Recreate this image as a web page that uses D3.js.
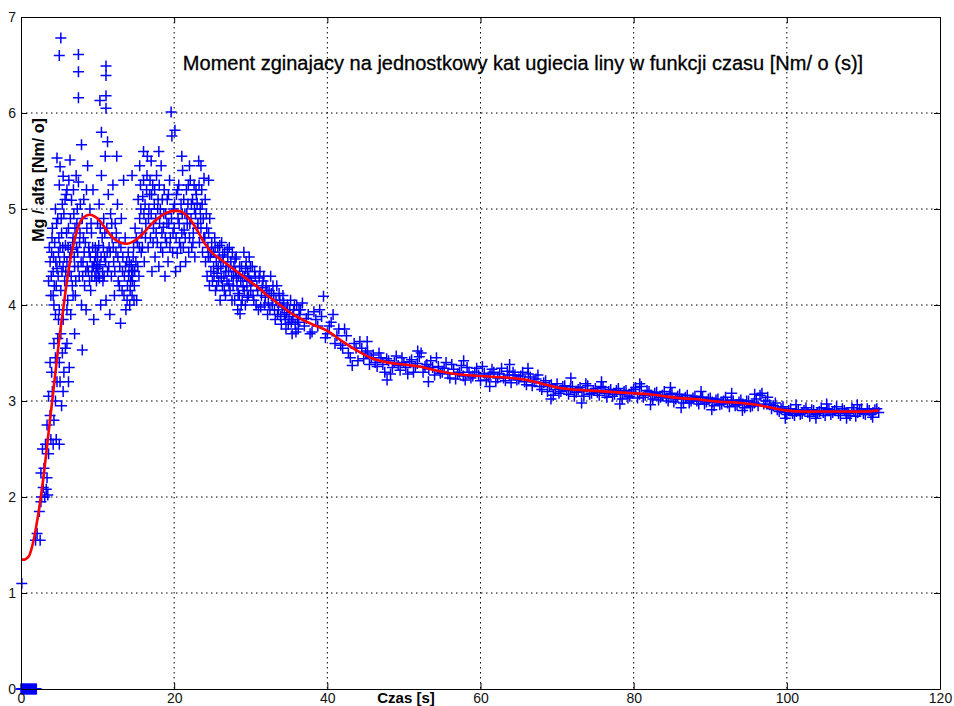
<!DOCTYPE html>
<html>
<head>
<meta charset="utf-8">
<script src="https://cdn.jsdelivr.net/npm/d3@7"></script>
<style>
  body { margin: 0; background: #fff; }
  text { font-family: "Liberation Sans", Arial, sans-serif; }
</style>
</head>
<body>
<svg width="954" height="706"></svg>
<script>
// axis ticks
const xTicks = [0, 20, 40, 60, 80, 100, 120];
const yTicks = [0, 1, 2, 3, 4, 5, 6, 7];

// measured points at zero (start of the test)
const zeroPoints = [[0, 0], [0.1, 0], [0.2, 0], [0.3, 0], [0.4, 0], [0.5, 0], [0.6, 0], [0.7, 0], [0.8, 0], [0.9, 0],
  [1, 0], [1.1, 0], [1.2, 0], [1.3, 0], [1.4, 0], [1.5, 0], [1.6, 0], [1.7, 0], [1.8, 0], [1.9, 0], [2, 0]];

// rising part
const risePoints = [
  [0.1, 1.1], [1.9, 1.55], [2.1, 1.62], [2.4, 1.85], [2.5, 1.55], [2.6, 1.95], [2.7, 2.0], [2.9, 2.1],
  [3.1, 2.0], [3.3, 2.08], [3.5, 2.02], [2.6, 2.25], [3.0, 2.3], [3.4, 2.2], [2.8, 2.5], [3.2, 2.55],
  [3.6, 2.45], [3.9, 2.6], [4.2, 2.55], [4.6, 2.6], [5.0, 2.55], [3.4, 2.75], [3.8, 2.85], [4.3, 2.8],
  [3.6, 3.05], [4.1, 3.1], [4.5, 3.0], [5.1, 3.2], [5.3, 2.95], [4.0, 3.3], [4.5, 3.45], [5.0, 3.4],
  [5.6, 3.3], [4.3, 3.6], [4.8, 3.65], [5.2, 3.7], [5.8, 3.55], [6.3, 3.35], [8.0, 3.53], [4.5, 3.9],
  [5.0, 3.95], [5.5, 3.85], [6.0, 3.95], [4.2, 4.1], [4.7, 3.2], [5.5, 3.1], [6.0, 3.6], [5.4, 3.5],
  [6.5, 3.9], [6.8, 4.1], [7.0, 3.7], [6.2, 3.2], [3.8, 3.4], [4.9, 3.85]
];

// scattered plateau 3.5 - 25 s
const plateauPoints = [
  [3.6, 4.25], [3.8, 4.45], [3.9, 4.1], [4.0, 4.55], [4.1, 4.8], [4.2, 4.35], [4.3, 4.0], [4.4, 4.65],
  [4.5, 5.0], [4.6, 4.2], [4.7, 5.53], [4.7, 4.38], [4.8, 4.9], [4.9, 4.55], [5.0, 5.25], [5.1, 5.44],
  [5.1, 4.6], [5.2, 4.15], [5.3, 4.75], [5.4, 5.05], [5.5, 5.34], [5.5, 4.4], [5.6, 4.95], [5.7, 4.25],
  [5.8, 4.62], [5.9, 5.15], [6.0, 5.2], [6.0, 4.45], [6.1, 4.05], [6.2, 4.8], [6.3, 4.35], [6.4, 5.51],
  [6.5, 4.58], [6.6, 5.09], [6.7, 4.2], [6.8, 4.7], [6.9, 4.95], [7.0, 4.4], [7.1, 4.1], [7.2, 5.35],
  [7.3, 4.85], [7.4, 4.55], [7.5, 5.28], [7.6, 4.3], [7.7, 4.75], [7.9, 5.67], [7.9, 4.0], [8.0, 4.9],
  [8.1, 4.45], [8.2, 5.1], [8.3, 4.2], [8.4, 4.65], [8.5, 3.95], [8.6, 4.8], [8.7, 5.45], [8.8, 4.35],
  [8.9, 4.55], [9.0, 5.0], [9.1, 4.15], [9.2, 4.75], [9.3, 4.4], [9.4, 5.2], [9.5, 3.85], [9.6, 4.45],
  [9.7, 4.6], [9.8, 4.35], [9.9, 4.4], [10.0, 4.5], [10.0, 4.85], [10.1, 4.3], [10.2, 5.05], [10.3, 4.42],
  [10.4, 4.0], [10.5, 5.35], [10.6, 4.7], [10.7, 4.25], [10.8, 4.9], [10.9, 4.5], [11.0, 5.55], [11.1, 4.05],
  [11.2, 4.8], [11.3, 4.35], [11.4, 5.15], [11.5, 4.6], [11.6, 3.9], [11.7, 4.95], [11.8, 4.3], [11.9, 4.7],
  [12.0, 5.25], [12.1, 4.45], [12.2, 4.1], [12.3, 4.85], [12.4, 4.55], [12.6, 5.05], [12.7, 4.25], [12.8, 4.65],
  [12.9, 4.4], [13.0, 3.81], [13.1, 4.9], [13.2, 4.15], [13.3, 4.5], [13.4, 5.3], [13.5, 4.3], [13.6, 4.7],
  [13.7, 3.95], [13.8, 4.45], [13.9, 4.2], [14.0, 4.55], [14.1, 4.35], [14.2, 4.0], [14.3, 4.25], [14.4, 4.42],
  [14.5, 4.1], [14.6, 4.36], [14.7, 4.6], [14.8, 4.2], [14.9, 4.8], [15.0, 4.45], [15.1, 4.05], [15.2, 4.65],
  [15.3, 5.1], [15.4, 4.3], [15.5, 4.9], [15.6, 5.25], [15.7, 4.55], [15.8, 4.75], [15.9, 5.13], [16.0, 5.3],
  [16.1, 4.45], [16.2, 5.05], [16.3, 4.85], [16.4, 5.2], [16.5, 5.55], [16.6, 4.6], [16.7, 5.0], [16.8, 5.15],
  [16.9, 4.7], [17.0, 4.95], [17.1, 4.35], [17.2, 5.25], [17.3, 4.8], [17.4, 5.05], [17.5, 4.5], [17.6, 4.9],
  [17.7, 5.35], [17.8, 4.65], [17.9, 5.1], [18.0, 4.4], [18.1, 4.85], [18.2, 5.0], [18.3, 5.45], [18.4, 4.75],
  [18.5, 4.55], [18.6, 4.81], [18.7, 5.2], [18.8, 4.3], [18.9, 4.95], [19.0, 4.65], [19.1, 5.1], [19.2, 4.45],
  [19.3, 4.85], [19.4, 5.3], [19.5, 4.7], [19.8, 4.55], [19.9, 5.0], [20.0, 4.8], [20.2, 4.35], [20.3, 5.15],
  [20.4, 4.54], [20.5, 4.9], [20.6, 5.25], [20.7, 4.65], [20.8, 4.4], [20.9, 5.05], [21.0, 4.75], [21.1, 5.4],
  [21.2, 4.6], [21.3, 4.78], [21.4, 4.95], [21.5, 4.45], [21.6, 5.2], [21.7, 4.85], [21.8, 5.05], [21.9, 4.55],
  [22.0, 4.7], [22.1, 5.3], [22.2, 4.9], [22.3, 4.6], [22.4, 5.1], [22.5, 4.75], [22.6, 5.25], [22.7, 4.5],
  [22.8, 4.95], [22.9, 5.15], [23.0, 5.06], [23.1, 4.85], [23.2, 5.5], [23.3, 4.65], [23.4, 5.0], [23.5, 4.8],
  [23.6, 5.2], [23.7, 4.55], [23.8, 4.9], [23.9, 5.32], [24.0, 4.7], [24.1, 4.45], [24.2, 4.95], [24.3, 4.3],
  [24.4, 4.6], [24.5, 4.75], [24.6, 4.2], [24.7, 4.5], [24.8, 4.35], [24.9, 4.65], [25.0, 4.25],
  [14.5, 5.35], [15.5, 5.45], [16.0, 5.6], [17.0, 5.5], [18.0, 5.6], [21.0, 5.55], [22.0, 5.45], [23.5, 5.45],
  [24.5, 5.3], [12.5, 5.55], [10.5, 5.8], [11.3, 5.7]
];

// denser core of the plateau
const plateauCore = [
  [3.7, 4.6], [3.95, 4.3], [4.05, 4.7], [4.25, 4.5], [4.35, 4.2], [4.55, 4.45], [4.65, 4.85], [4.85, 4.3],
  [4.95, 4.7], [5.05, 4.45], [5.25, 4.9], [5.35, 4.35], [5.45, 4.6], [5.65, 4.5], [5.75, 5.1], [5.85, 4.35],
  [5.95, 4.75], [6.15, 4.6], [6.25, 5.3], [6.35, 4.5], [6.45, 4.9], [6.55, 4.3], [6.75, 4.65], [6.85, 5.2],
  [6.95, 4.5], [7.05, 4.8], [7.15, 4.25], [7.25, 4.6], [7.35, 5.0], [7.45, 4.4], [7.65, 4.65], [7.75, 5.05],
  [7.85, 4.45], [8.05, 4.3], [8.15, 4.7], [8.25, 4.55], [8.45, 4.35], [8.55, 5.2], [8.65, 4.4], [8.85, 4.6],
  [8.95, 4.25], [9.05, 4.5], [9.15, 4.85], [9.25, 4.3], [9.35, 4.6], [9.45, 4.4], [9.65, 4.3], [9.75, 4.5],
  [9.85, 4.25], [9.95, 4.55], [10.05, 4.38], [10.15, 4.62], [10.25, 4.28], [10.35, 4.8], [10.45, 4.5], [10.65, 4.35],
  [10.75, 4.6], [10.85, 4.3], [10.95, 4.75], [11.05, 4.45], [11.25, 4.55], [11.45, 4.4], [11.65, 4.55], [11.85, 4.85],
  [12.05, 4.6], [12.25, 4.35], [12.45, 4.75], [12.65, 4.5], [12.85, 4.2], [13.05, 4.6], [13.25, 4.35], [13.45, 4.1],
  [13.65, 4.4], [13.85, 4.05], [14.05, 4.3], [14.15, 4.45], [14.25, 4.15], [14.45, 4.3], [14.55, 4.25], [14.65, 4.5],
  [14.75, 4.05], [14.85, 4.35], [15.05, 4.7], [15.25, 4.4], [15.45, 4.6], [15.65, 5.0], [15.85, 4.6], [16.05, 4.95],
  [16.25, 4.7], [16.45, 5.35], [16.65, 4.9], [16.85, 5.3], [17.05, 5.15], [17.25, 4.65], [17.45, 5.2], [17.65, 4.75],
  [17.85, 5.0], [18.05, 5.25], [18.25, 4.6], [18.45, 5.1], [18.65, 4.95], [18.85, 4.7], [19.05, 4.85], [19.25, 5.15],
  [19.45, 4.6], [19.65, 4.9], [19.85, 4.75], [20.05, 5.05], [20.25, 4.7], [20.45, 5.2], [20.65, 4.85], [20.85, 4.6],
  [21.05, 4.95], [21.25, 5.1], [21.45, 4.7], [21.65, 4.95], [21.85, 5.25], [22.05, 4.85], [22.25, 5.05], [22.45, 4.65],
  [22.65, 5.0], [22.85, 5.2], [23.05, 4.8], [23.25, 5.25], [23.45, 4.9], [23.65, 5.05], [23.85, 4.7], [24.05, 5.1],
  [24.25, 4.8], [24.45, 4.5], [24.65, 4.9], [24.85, 4.55]
];

// isolated high values
const outlierPoints = [
  [5.2, 6.78], [5.0, 6.6], [7.5, 6.61], [7.5, 6.43], [11.1, 6.49], [11.1, 6.39], [11.1, 6.18], [7.5, 6.16],
  [10.3, 6.13], [11.1, 6.05], [19.6, 6.01], [20.1, 5.82], [19.7, 5.76]
];

// decay 25 - 36 s
const decayPoints = [
  [25.1, 4.55], [25.2, 4.3], [25.3, 4.7], [25.4, 4.15], [25.5, 4.45], [25.6, 4.33], [25.7, 4.6], [25.8, 4.25],
  [25.9, 4.5], [26.0, 4.05], [26.1, 4.4], [26.2, 4.65], [26.3, 4.2], [26.4, 4.45], [26.5, 4.3], [26.6, 4.55],
  [26.7, 4.1], [26.8, 4.4], [26.9, 4.25], [27.0, 4.5], [27.1, 4.35], [27.2, 4.6], [27.3, 4.15], [27.4, 4.45],
  [27.5, 4.3], [27.6, 4.55], [27.7, 4.2], [27.8, 4.4], [27.9, 4.05], [28.0, 4.35], [28.1, 4.5], [28.2, 4.2],
  [28.3, 3.95], [28.4, 4.3], [28.5, 4.1], [28.6, 3.91], [28.7, 4.25], [28.8, 4.4], [28.9, 4.05], [29.0, 4.19],
  [29.1, 4.55], [29.2, 4.3], [29.3, 4.0], [29.4, 4.45], [29.5, 4.2], [29.6, 4.35], [29.7, 4.1], [29.8, 4.5],
  [29.9, 4.25], [30.0, 4.15], [30.2, 4.4], [30.4, 4.05], [30.6, 4.3], [30.8, 4.2], [31.0, 3.95], [31.2, 4.35],
  [31.4, 4.1], [31.6, 4.25], [31.8, 4.0], [32.0, 4.2], [32.2, 3.9], [32.4, 4.15], [32.6, 4.3], [32.8, 4.0],
  [33.0, 4.1], [33.2, 3.85], [33.4, 4.2], [33.6, 3.95], [33.8, 4.05], [34.0, 3.8], [34.2, 4.1], [34.4, 3.9],
  [34.6, 3.75], [34.8, 4.0], [35.0, 3.85], [35.2, 4.05], [35.4, 3.7], [35.6, 3.95], [35.8, 3.8], [36.0, 4.0],
  [36.2, 3.75], [36.4, 3.9]
];

const decayCore = [
  [25.15, 4.4], [25.35, 4.6], [25.55, 4.2], [25.75, 4.38], [25.95, 4.62], [26.15, 4.28], [26.35, 4.52], [26.55, 4.15],
  [26.75, 4.35], [26.95, 4.58], [27.15, 4.22], [27.35, 4.4], [27.55, 4.05], [27.75, 4.3], [27.95, 4.48], [28.15, 4.28],
  [28.35, 4.12], [28.55, 4.4], [28.75, 4.0], [28.95, 4.3], [29.15, 4.15], [29.35, 4.38], [29.55, 4.08], [29.75, 4.28],
  [29.95, 4.4], [30.1, 4.25], [30.3, 4.1], [30.5, 4.35], [30.7, 4.0], [30.9, 4.15], [31.1, 4.28], [31.3, 3.98],
  [31.5, 4.18], [31.7, 4.3], [31.9, 4.08], [32.1, 4.15], [32.3, 4.02], [32.5, 3.95], [32.7, 4.12], [32.9, 4.2],
  [33.1, 3.95], [33.3, 4.05], [33.5, 3.9], [33.7, 4.12], [33.9, 3.88], [34.1, 3.98], [34.3, 4.02], [34.5, 3.85],
  [34.7, 3.92], [34.9, 3.8], [35.1, 3.95], [35.3, 3.82], [35.5, 3.88], [35.7, 4.0], [35.9, 3.72], [36.1, 3.85],
  [36.3, 3.95]
];

// long tail 36 - 112 s
const tailPoints = [
  [36.5, 3.95], [37.0, 3.78], [37.5, 3.9], [38.0, 3.72], [38.5, 3.85], [39.0, 3.95], [39.5, 4.09], [40.0, 3.7],
  [40.5, 3.82], [41.0, 3.6], [41.5, 3.75], [42.0, 3.55], [42.5, 3.68], [43.0, 3.45], [43.5, 3.6], [44.0, 3.42],
  [44.5, 3.55], [45.0, 3.5], [45.5, 3.38], [46.0, 3.48], [46.5, 3.36], [47.0, 3.45], [47.5, 3.3], [48.0, 3.42],
  [48.5, 3.35], [49.0, 3.47], [49.5, 3.32], [50.0, 3.4], [50.5, 3.28], [51.0, 3.43], [51.5, 3.36], [52.0, 3.46],
  [52.5, 3.3], [53.0, 3.38], [53.5, 3.42], [54.0, 3.27], [54.5, 3.36], [55.0, 3.3], [55.5, 3.4], [56.0, 3.24],
  [56.5, 3.33], [57.0, 3.28], [57.5, 3.37], [58.0, 3.22], [58.5, 3.3], [59.0, 3.26], [59.5, 3.34], [60.0, 3.21],
  [60.5, 3.29], [61.0, 3.25], [61.5, 3.33], [62.0, 3.2], [62.5, 3.28], [63.0, 3.24], [63.5, 3.31], [64.0, 3.19],
  [64.5, 3.27], [65.0, 3.23], [65.5, 3.3], [66.0, 3.17], [66.5, 3.25], [67.0, 3.2], [67.5, 3.27], [68.0, 3.12],
  [68.5, 3.21], [69.0, 3.15], [69.5, 3.06], [70.0, 3.18], [70.5, 3.1], [71.0, 3.16], [71.5, 3.07], [72.0, 3.15],
  [72.5, 3.09], [73.0, 3.14], [73.5, 3.05], [74.0, 3.16], [74.5, 3.08], [75.0, 3.13], [75.5, 3.06], [76.0, 3.14],
  [76.5, 3.04], [77.0, 3.12], [77.5, 3.07], [78.0, 3.13], [78.5, 3.02], [79.0, 3.11], [79.5, 3.05], [80.0, 3.12],
  [80.5, 3.03], [81.0, 3.15], [81.5, 3.06], [82.0, 3.1], [82.5, 3.02], [83.0, 3.09], [83.5, 3.04], [84.0, 3.1],
  [84.5, 3.0], [85.0, 3.08], [85.5, 3.02], [86.0, 3.07], [86.5, 2.98], [87.0, 3.06], [87.5, 3.0], [88.0, 3.05],
  [88.5, 2.97], [89.0, 3.04], [89.5, 2.99], [90.0, 3.03], [90.5, 2.95], [91.0, 3.02], [91.5, 2.97], [92.0, 3.04],
  [92.5, 2.94], [93.0, 3.0], [93.5, 2.96], [94.0, 3.01], [94.5, 2.93], [95.0, 3.0], [95.5, 2.95], [96.0, 3.02],
  [96.5, 3.06], [97.0, 2.97], [97.5, 3.04], [98.0, 2.92], [98.5, 2.98], [99.0, 2.89], [99.5, 2.94], [100.0, 2.86],
  [100.5, 2.92], [101.0, 2.85], [101.5, 2.91], [102.0, 2.87], [102.5, 2.93], [103.0, 2.84], [103.5, 2.9], [104.0, 2.87],
  [104.5, 2.93], [105.0, 2.85], [105.5, 2.91], [106.0, 2.88], [106.5, 2.94], [107.0, 2.85], [107.5, 2.9], [108.0, 2.87],
  [108.5, 2.93], [109.0, 2.84], [109.5, 2.9], [110.0, 2.87], [110.5, 2.92], [111.0, 2.86], [111.5, 2.91], [112.0, 2.88]
];

const tailCore = [
  [36.25, 3.82], [36.75, 4.02], [37.25, 3.86], [37.75, 3.7], [38.25, 3.93], [38.75, 3.78], [39.25, 3.88], [39.75, 3.66],
  [40.25, 3.78], [40.75, 3.9], [41.25, 3.68], [41.75, 3.58], [42.25, 3.75], [42.75, 3.5], [43.25, 3.37], [43.75, 3.55],
  [44.25, 3.62], [44.75, 3.44], [45.25, 3.52], [45.75, 3.45], [46.25, 3.4], [46.75, 3.5], [47.25, 3.38], [47.75, 3.44],
  [48.25, 3.28], [48.75, 3.4], [49.25, 3.37], [49.75, 3.45], [50.25, 3.35], [50.75, 3.41], [51.25, 3.3], [51.75, 3.39],
  [52.25, 3.5], [52.75, 3.36], [53.25, 3.33], [53.75, 3.35], [54.25, 3.45], [54.75, 3.29], [55.25, 3.34], [55.75, 3.28],
  [56.25, 3.38], [56.75, 3.23], [57.25, 3.3], [57.75, 3.26], [58.25, 3.35], [58.75, 3.24], [59.25, 3.3], [59.75, 3.27],
  [60.25, 3.36], [60.75, 3.22], [61.25, 3.28], [61.75, 3.3], [62.25, 3.24], [62.75, 3.34], [63.25, 3.21], [63.75, 3.27],
  [64.25, 3.3], [64.75, 3.22], [65.25, 3.26], [65.75, 3.2], [66.25, 3.28], [66.75, 3.16], [67.25, 3.23], [67.75, 3.15],
  [68.25, 3.19], [68.75, 3.1], [69.25, 3.17], [69.75, 3.12], [70.25, 3.08], [70.75, 3.15], [71.25, 3.11], [71.75, 3.13],
  [72.25, 3.05], [72.75, 3.12], [73.25, 3.1], [73.75, 3.18], [74.25, 3.07], [74.75, 3.11], [75.25, 3.09], [75.75, 3.15],
  [76.25, 3.08], [76.75, 3.1], [77.25, 3.05], [77.75, 3.11], [78.25, 3.07], [78.75, 3.1], [79.25, 3.03], [79.75, 3.09],
  [80.25, 3.14], [80.75, 3.07], [81.25, 3.04], [81.75, 3.11], [82.25, 3.06], [82.75, 3.08], [83.25, 3.01], [83.75, 3.06],
  [84.25, 3.03], [84.75, 3.07], [85.25, 2.99], [85.75, 3.05], [86.25, 3.02], [86.75, 3.04], [87.25, 2.98], [87.75, 3.03],
  [88.25, 3.0], [88.75, 3.04], [89.25, 2.97], [89.75, 3.02], [90.25, 2.99], [90.75, 3.01], [91.25, 2.96], [91.75, 3.0],
  [92.25, 2.98], [92.75, 3.01], [93.25, 2.95], [93.75, 2.99], [94.25, 2.97], [94.75, 3.0], [95.25, 2.94], [95.75, 2.98],
  [96.25, 2.95], [96.75, 3.08], [97.25, 3.0], [97.75, 2.96], [98.25, 2.95], [98.75, 2.91], [99.25, 2.92], [99.75, 2.88],
  [100.25, 2.9], [100.75, 2.87], [101.25, 2.89], [101.75, 2.86], [102.25, 2.9], [102.75, 2.88], [103.25, 2.91], [103.75, 2.86],
  [104.25, 2.89], [104.75, 2.88], [105.25, 2.92], [105.75, 2.86], [106.25, 2.9], [106.75, 2.87], [107.25, 2.92], [107.75, 2.88],
  [108.25, 2.85], [108.75, 2.9], [109.25, 2.88], [109.75, 2.92], [110.25, 2.86], [110.75, 2.9], [111.25, 2.88], [111.75, 2.92]
];

// scattered spikes above / below the tail band
const tailSpikes = [
  [45.2, 3.62], [47.8, 3.22], [51.8, 3.52], [53.2, 3.2], [57.8, 3.42], [61.2, 3.15], [63.8, 3.38], [66.2, 3.34],
  [69.2, 3.02], [71.8, 3.24], [73.2, 2.98], [75.8, 3.2], [78.2, 2.97], [80.8, 3.18], [82.2, 2.96], [84.8, 3.14],
  [86.2, 2.93], [88.8, 3.1], [90.2, 2.91], [92.8, 3.08], [94.2, 2.9], [95.8, 3.07], [99.8, 2.82], [101.2, 2.96],
  [103.8, 2.82], [105.2, 2.97], [107.8, 2.82], [109.2, 2.96], [111.2, 2.83]
];

// fitted curve (red)
const fitTime = [0, 0.5, 1, 1.5, 2, 2.5, 3, 3.5, 4, 4.5, 5, 5.5, 6, 6.5, 7, 7.5, 8, 9, 10, 11, 12, 13, 14, 15, 16, 17,
  18, 19, 20, 21, 22, 23, 24, 25, 26, 27, 28, 29, 30, 31, 32, 33, 34, 35, 36, 38, 40, 42, 44, 46, 48, 50, 52, 54, 56,
  58, 60, 62, 64, 66, 68, 70, 72, 74, 76, 78, 80, 82, 84, 86, 88, 90, 92, 94, 96, 98, 100, 102, 104, 106, 108, 110, 112];
const fitValue = [1.35, 1.35, 1.38, 1.5, 1.7, 1.95, 2.25, 2.6, 2.95, 3.3, 3.65, 3.95, 4.25, 4.5, 4.68, 4.82, 4.9, 4.94,
  4.9, 4.8, 4.7, 4.65, 4.64, 4.68, 4.75, 4.84, 4.91, 4.96, 4.98, 4.97, 4.9, 4.78, 4.64, 4.54, 4.48, 4.42, 4.36, 4.3,
  4.24, 4.18, 4.11, 4.05, 3.99, 3.93, 3.88, 3.8, 3.73, 3.62, 3.52, 3.44, 3.4, 3.38, 3.36, 3.32, 3.29, 3.27, 3.26, 3.25,
  3.24, 3.22, 3.18, 3.14, 3.12, 3.11, 3.1, 3.09, 3.08, 3.07, 3.05, 3.03, 3.02, 3.0, 2.99, 2.98, 2.96, 2.93, 2.9, 2.89,
  2.89, 2.89, 2.89, 2.89, 2.9];

const titleText = "Moment zginajacy na jednostkowy kat ugiecia liny w funkcji czasu [Nm/ o (s)]";
const xLabel = "Czas [s]";
const yLabel = "Mg / alfa [Nm/ o]";

const plot = { left: 21, right: 940, top: 17, bottom: 689 };

const x = d3.scaleLinear().domain([0, 120]).range([plot.left, plot.right]);
const y = d3.scaleLinear().domain([0, 7]).range([plot.bottom, plot.top]);

const svg = d3.select("svg");

// dotted grid
const grid = svg.append("g").attr("class", "grid")
  .attr("stroke", "#000").attr("stroke-width", 1).attr("stroke-dasharray", "1.5,3.5");
grid.selectAll(".gx").data(xTicks.slice(1, -1)).join("line")
  .attr("x1", d => x(d)).attr("x2", d => x(d))
  .attr("y1", plot.top).attr("y2", plot.bottom);
grid.selectAll(".gy").data(yTicks.slice(1, -1)).join("line")
  .attr("x1", plot.left).attr("x2", plot.right)
  .attr("y1", d => y(d)).attr("y2", d => y(d));

// title
svg.append("text")
  .attr("x", 523).attr("y", 70)
  .attr("text-anchor", "middle")
  .attr("font-size", 20)
  .attr("fill", "#000")
  .attr("stroke", "#000").attr("stroke-width", 0.3)
  .text(titleText);

// scatter as "+" markers
const allPoints = [].concat(zeroPoints, risePoints, plateauPoints, plateauCore, outlierPoints,
  decayPoints, decayCore, tailPoints, tailCore, tailSpikes);
const half = 5.5;
svg.append("g").attr("class", "scatter")
  .selectAll("path")
  .data(allPoints)
  .join("path")
  .attr("d", d => {
    const px = x(d[0]), py = y(d[1]);
    return `M${px - half},${py}h${2 * half}M${px},${py - half}v${2 * half}`;
  })
  .attr("stroke", "#0000ff")
  .attr("stroke-width", 1.5)
  .attr("fill", "none");

// red fitted line
const fit = fitTime.map((t, i) => [t, fitValue[i]]);
svg.append("path")
  .datum(fit)
  .attr("fill", "none")
  .attr("stroke", "#ff0000")
  .attr("stroke-width", 2.6)
  .attr("d", d3.line().x(d => x(d[0])).y(d => y(d[1])).curve(d3.curveCatmullRom));

// axes
const fmt = d3.format("d");
const xAxis = svg.append("g")
  .attr("transform", `translate(0,${plot.bottom})`)
  .call(d3.axisBottom(x).tickValues(xTicks).tickFormat(fmt).tickSize(-6).tickPadding(4).tickSizeOuter(0));
const xAxisTop = svg.append("g")
  .attr("transform", `translate(0,${plot.top})`)
  .call(d3.axisTop(x).tickValues(xTicks).tickSize(-6).tickFormat("").tickSizeOuter(0));
const yAxis = svg.append("g")
  .attr("transform", `translate(${plot.left},0)`)
  .call(d3.axisLeft(y).tickValues(yTicks).tickFormat(fmt).tickSize(-6).tickPadding(5).tickSizeOuter(0));
const yAxisRight = svg.append("g")
  .attr("transform", `translate(${plot.right},0)`)
  .call(d3.axisRight(y).tickValues(yTicks).tickSize(-6).tickFormat("").tickSizeOuter(0));

[xAxis, xAxisTop, yAxis, yAxisRight].forEach(a => {
  a.selectAll(".domain").attr("stroke", "#000").attr("stroke-width", 1);
  a.selectAll(".tick line").attr("stroke", "#000");
  a.selectAll("text").attr("font-family", '"Liberation Sans", Arial, sans-serif')
    .attr("font-size", 14).attr("fill", "#111");
});

// axis labels
svg.append("text")
  .attr("x", 406).attr("y", 703)
  .attr("text-anchor", "middle")
  .attr("font-size", 15).attr("font-weight", "bold")
  .text(xLabel);

svg.append("text")
  .attr("transform", "translate(44,180) rotate(-90)")
  .attr("text-anchor", "middle")
  .attr("font-size", 16).attr("font-weight", "bold")
  .text(yLabel);
</script>
</body>
</html>
